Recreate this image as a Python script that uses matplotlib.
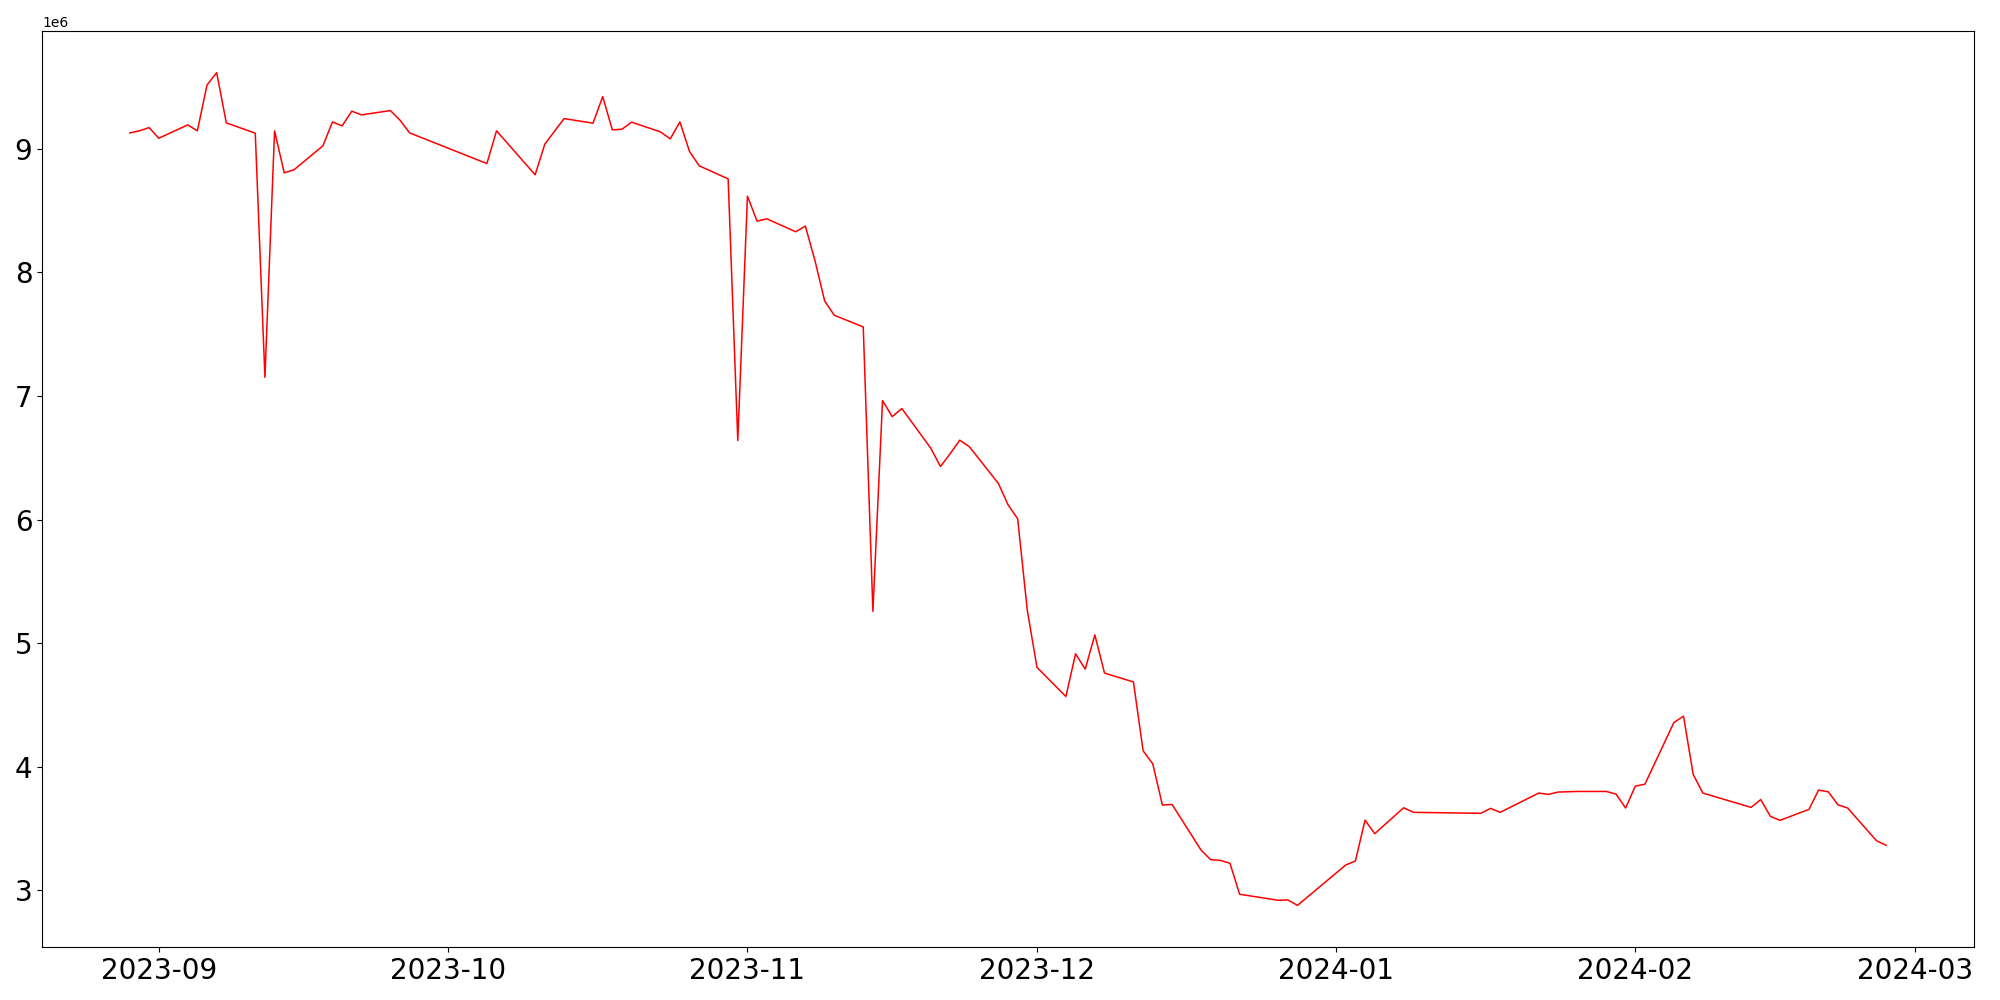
import matplotlib
matplotlib.use('Agg')
import matplotlib.pyplot as plt
import matplotlib.dates as mdates
import pandas as pd

# trading dates
dates = [
    '2023-08-29', '2023-08-30', '2023-08-31', '2023-09-01',
    '2023-09-04', '2023-09-05', '2023-09-06', '2023-09-07', '2023-09-08',
    '2023-09-11', '2023-09-12', '2023-09-13', '2023-09-14', '2023-09-15',
    '2023-09-18', '2023-09-19', '2023-09-20', '2023-09-21', '2023-09-22',
    '2023-09-25', '2023-09-26', '2023-09-27',
    '2023-10-05', '2023-10-06',
    '2023-10-10', '2023-10-11', '2023-10-13',
    '2023-10-16', '2023-10-17', '2023-10-18', '2023-10-19', '2023-10-20',
    '2023-10-23', '2023-10-24', '2023-10-25', '2023-10-26', '2023-10-27',
    '2023-10-30', '2023-10-31', '2023-11-01', '2023-11-02', '2023-11-03',
    '2023-11-06', '2023-11-07', '2023-11-08', '2023-11-09', '2023-11-10',
    '2023-11-13', '2023-11-14', '2023-11-15', '2023-11-16', '2023-11-17',
    '2023-11-20', '2023-11-21', '2023-11-22', '2023-11-23', '2023-11-24',
    '2023-11-27', '2023-11-28', '2023-11-29', '2023-11-30', '2023-12-01',
    '2023-12-04', '2023-12-05', '2023-12-06', '2023-12-07', '2023-12-08',
    '2023-12-11', '2023-12-12', '2023-12-13', '2023-12-14', '2023-12-15',
    '2023-12-18', '2023-12-19', '2023-12-20', '2023-12-21', '2023-12-22',
    '2023-12-26', '2023-12-27', '2023-12-28',
    '2024-01-02', '2024-01-03', '2024-01-04', '2024-01-05',
    '2024-01-08', '2024-01-09',
    '2024-01-16', '2024-01-17', '2024-01-18',
    '2024-01-22', '2024-01-23', '2024-01-24', '2024-01-26',
    '2024-01-29', '2024-01-30', '2024-01-31', '2024-02-01', '2024-02-02',
    '2024-02-05', '2024-02-06', '2024-02-07', '2024-02-08',
    '2024-02-13', '2024-02-14', '2024-02-15', '2024-02-16',
    '2024-02-19', '2024-02-20', '2024-02-21', '2024-02-22', '2024-02-23',
    '2024-02-26', '2024-02-27',
]

# values in millions
values = [
    9.129, 9.146, 9.172, 9.086,
    9.194, 9.146, 9.517, 9.617, 9.210,
    9.127, 7.151, 9.146, 8.806, 8.830,
    9.024, 9.218, 9.186, 9.305, 9.275,
    9.310, 9.232, 9.129,
    8.881, 9.146,
    8.790, 9.038, 9.245,
    9.208, 9.423, 9.154, 9.159, 9.216,
    9.137, 9.081, 9.218, 8.978, 8.863,
    8.757, 6.639, 8.617, 8.415, 8.434,
    8.329, 8.375, 8.095, 7.769, 7.653,
    7.559, 5.257, 6.963, 6.833, 6.898,
    6.577, 6.429, 6.532, 6.642, 6.589,
    6.292, 6.120, 6.006, 5.265, 4.804,
    4.567, 4.913, 4.789, 5.066, 4.757,
    4.685, 4.128, 4.023, 3.689, 3.694,
    3.325, 3.247, 3.241, 3.218, 2.967,
    2.918, 2.921, 2.877,
    3.204, 3.236, 3.567, 3.457,
    3.667, 3.630,
    3.622, 3.662, 3.630,
    3.786, 3.775, 3.794, 3.799,
    3.799, 3.778, 3.665, 3.842, 3.858,
    4.357, 4.408, 3.937, 3.786,
    3.670, 3.733, 3.597, 3.565,
    3.654, 3.810, 3.796, 3.691, 3.665,
    3.400, 3.363,
]

x = pd.to_datetime(dates)
y = [v * 1e6 for v in values]

fig, ax = plt.subplots(figsize=(20, 10), dpi=100)
ax.plot(x, y, color='red', linewidth=1.1)

ax.xaxis.set_major_locator(mdates.MonthLocator())
ax.xaxis.set_major_formatter(mdates.DateFormatter('%Y-%m'))
ax.tick_params(axis='both', labelsize=20)

plt.subplots_adjust(left=0.021, right=0.987, top=0.969, bottom=0.053)
plt.savefig('out.png')
